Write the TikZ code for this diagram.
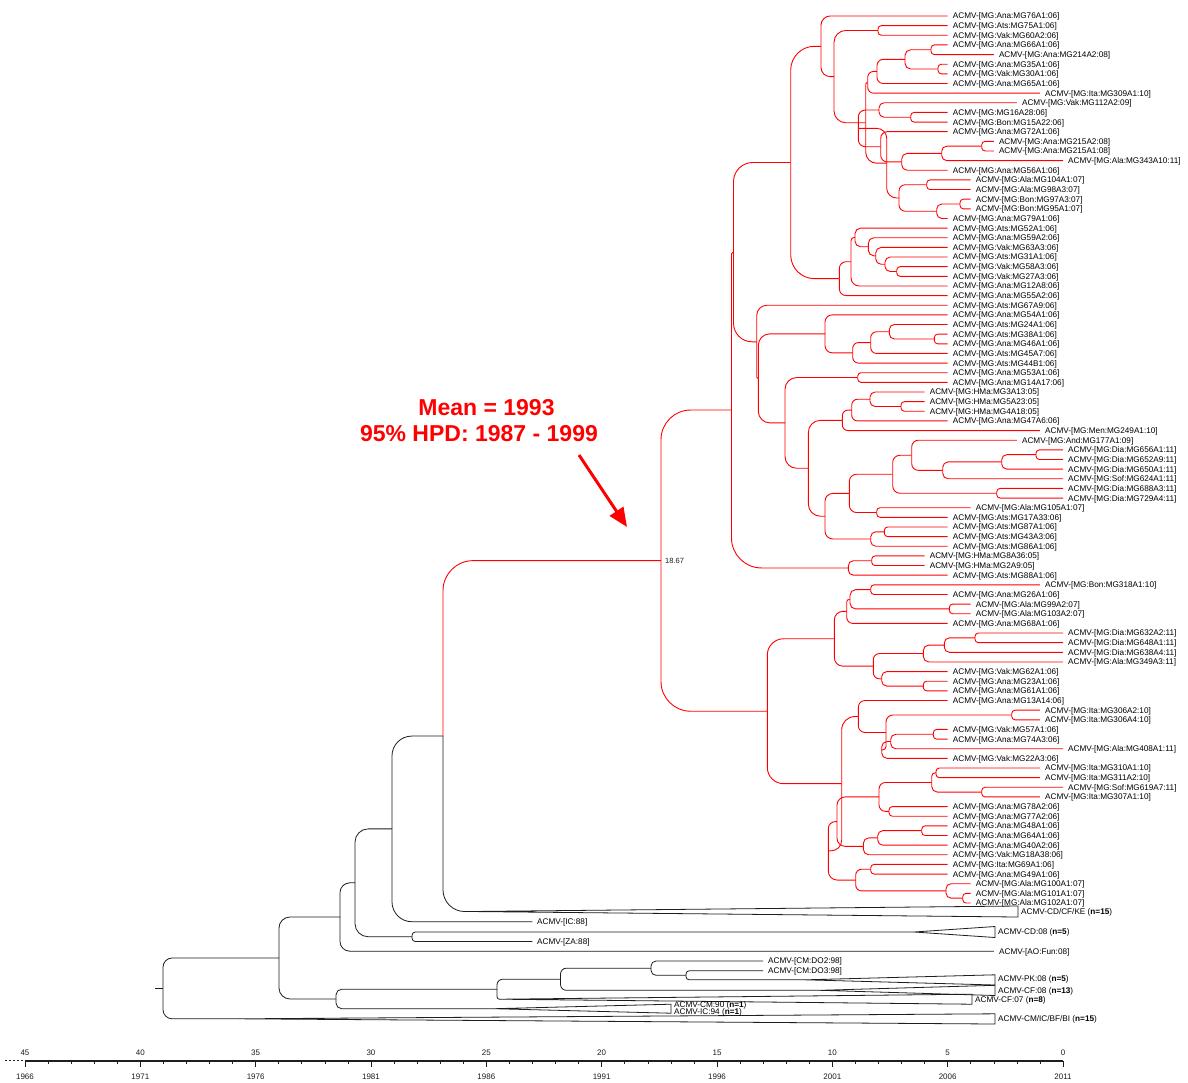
\documentclass[tikz,border=0pt]{standalone}
\usepackage{fontspec}
\setmainfont{Liberation Sans}
\usetikzlibrary{calc,arrows.meta}
\definecolor{tr}{RGB}{255,0,0}
\definecolor{tb}{RGB}{30,30,30}
\newdimen\bpx \newdimen\bpy \newdimen\bcx \newdimen\bcy
\newcommand\br[3][]{%
  \pgfextractx{\bpx}{\pgfpointanchor{#2}{center}}%
  \pgfextracty{\bpy}{\pgfpointanchor{#2}{center}}%
  \pgfextractx{\bcx}{\pgfpointanchor{#3}{center}}%
  \pgfextracty{\bcy}{\pgfpointanchor{#3}{center}}%
  \pgfmathsetmacro\bdy{abs((\the\bcy)-(\the\bpy))}%
  \pgfmathsetmacro\bdx{abs((\the\bcx)-(\the\bpx))}%
  \pgfmathsetmacro\rr{max(0.01,min(0.7*\bdy,4+0.17*\bdy,0.8*\bdx,30))}%
  \draw[branch,#1,rounded corners=\rr pt] (#2) |- (#3);}
\newcommand\ndc[4]{\path let \p1=(#3),\p2=(#4) in coordinate (#1) at (#2pt,{0.5*(\y1+\y2)});}
\newcommand\nd[5][]{\ndc{#2}{#3}{#4}{#5}\br[#1]{#2}{#4}\br[#1]{#2}{#5}}
\newcommand\lf[4]{\coordinate (#1) at ({1063-(11-#3)*23.067},{16+(#2-1)*9.641});
  \node[lab] (#1t) at ([xshift=5pt]#1) {ACMV-[MG:#4]};}
\begin{document}
\begin{tikzpicture}[x=1pt,y=-1pt,
  branch/.style={draw=tr,line width=0.9pt},
  blk/.style={draw=tb,line width=0.8pt},
  lab/.style={font=\fontsize{8.2}{9}\selectfont,anchor=west,inner sep=0pt,text height=5.9pt,text depth=0pt,text=black},
  axl/.style={font=\fontsize{8}{9}\selectfont,inner sep=0pt,text height=5.7pt,text depth=0pt,text=tb},
  ann/.style={font=\fontsize{23}{26}\selectfont\bfseries,text=tr,inner sep=0pt,text height=16.5pt,text depth=0pt}]
\fill[white] (0,0) rectangle (1188,1082);
\useasboundingbox (0,0) rectangle (1188,1082);
% leaves
\lf{l1}{1}{6}{Ana:MG76A1:06}
\lf{l2}{2}{6}{Ats:MG75A1:06}
\lf{l3}{3}{6}{Vak:MG60A2:06}
\lf{l4}{4}{6}{Ana:MG66A1:06}
\lf{l5}{5}{8}{Ana:MG214A2:08}
\lf{l6}{6}{6}{Ana:MG35A1:06}
\lf{l7}{7}{6}{Vak:MG30A1:06}
\lf{l8}{8}{6}{Ana:MG65A1:06}
\lf{l9}{9}{10}{Ita:MG309A1:10}
\lf{l10}{10}{9}{Vak:MG112A2:09}
\lf{l11}{11}{6}{MG16A28:06}
\lf{l12}{12}{6}{Bon:MG15A22:06}
\lf{l13}{13}{6}{Ana:MG72A1:06}
\lf{l14}{14}{8}{Ana:MG215A2:08}
\lf{l15}{15}{8}{Ana:MG215A1:08}
\lf{l16}{16}{11}{Ala:MG343A10:11}
\lf{l17}{17}{6}{Ana:MG56A1:06}
\lf{l18}{18}{7}{Ala:MG104A1:07}
\lf{l19}{19}{7}{Ala:MG98A3:07}
\lf{l20}{20}{7}{Bon:MG97A3:07}
\lf{l21}{21}{7}{Bon:MG95A1:07}
\lf{l22}{22}{6}{Ana:MG79A1:06}
\lf{l23}{23}{6}{Ats:MG52A1:06}
\lf{l24}{24}{6}{Ana:MG59A2:06}
\lf{l25}{25}{6}{Vak:MG63A3:06}
\lf{l26}{26}{6}{Ats:MG31A1:06}
\lf{l27}{27}{6}{Vak:MG58A3:06}
\lf{l28}{28}{6}{Vak:MG27A3:06}
\lf{l29}{29}{6}{Ana:MG12A8:06}
\lf{l30}{30}{6}{Ana:MG55A2:06}
\lf{l31}{31}{6}{Ats:MG67A9:06}
\lf{l32}{32}{6}{Ana:MG54A1:06}
\lf{l33}{33}{6}{Ats:MG24A1:06}
\lf{l34}{34}{6}{Ats:MG38A1:06}
\lf{l35}{35}{6}{Ana:MG46A1:06}
\lf{l36}{36}{6}{Ats:MG45A7:06}
\lf{l37}{37}{6}{Ats:MG44B1:06}
\lf{l38}{38}{6}{Ana:MG53A1:06}
\lf{l39}{39}{6}{Ana:MG14A17:06}
\lf{l40}{40}{5}{HMa:MG3A13:05}
\lf{l41}{41}{5}{HMa:MG5A23:05}
\lf{l42}{42}{5}{HMa:MG4A18:05}
\lf{l43}{43}{6}{Ana:MG47A6:06}
\lf{l44}{44}{10}{Men:MG249A1:10}
\lf{l45}{45}{9}{And:MG177A1:09}
\lf{l46}{46}{11}{Dia:MG656A1:11}
\lf{l47}{47}{11}{Dia:MG652A9:11}
\lf{l48}{48}{11}{Dia:MG650A1:11}
\lf{l49}{49}{11}{Sof:MG624A1:11}
\lf{l50}{50}{11}{Dia:MG688A3:11}
\lf{l51}{51}{11}{Dia:MG729A4:11}
\lf{l52}{52}{7}{Ala:MG105A1:07}
\lf{l53}{53}{6}{Ats:MG17A33:06}
\lf{l54}{54}{6}{Ats:MG87A1:06}
\lf{l55}{55}{6}{Ats:MG43A3:06}
\lf{l56}{56}{6}{Ats:MG86A1:06}
\lf{l57}{57}{5}{HMa:MG8A36:05}
\lf{l58}{58}{5}{HMa:MG2A9:05}
\lf{l59}{59}{6}{Ats:MG88A1:06}
\lf{l60}{60}{10}{Bon:MG318A1:10}
\lf{l61}{61}{6}{Ana:MG26A1:06}
\lf{l62}{62}{7}{Ala:MG99A2:07}
\lf{l63}{63}{7}{Ala:MG103A2:07}
\lf{l64}{64}{6}{Ana:MG68A1:06}
\lf{l65}{65}{11}{Dia:MG632A2:11}
\lf{l66}{66}{11}{Dia:MG648A1:11}
\lf{l67}{67}{11}{Dia:MG638A4:11}
\lf{l68}{68}{11}{Ala:MG349A3:11}
\lf{l69}{69}{6}{Vak:MG62A1:06}
\lf{l70}{70}{6}{Ana:MG23A1:06}
\lf{l71}{71}{6}{Ana:MG61A1:06}
\lf{l72}{72}{6}{Ana:MG13A14:06}
\lf{l73}{73}{10}{Ita:MG306A2:10}
\lf{l74}{74}{10}{Ita:MG306A4:10}
\lf{l75}{75}{6}{Vak:MG57A1:06}
\lf{l76}{76}{6}{Ana:MG74A3:06}
\lf{l77}{77}{11}{Ala:MG408A1:11}
\lf{l78}{78}{6}{Vak:MG22A3:06}
\lf{l79}{79}{10}{Ita:MG310A1:10}
\lf{l80}{80}{10}{Ita:MG311A2:10}
\lf{l81}{81}{11}{Sof:MG619A7:11}
\lf{l82}{82}{10}{Ita:MG307A1:10}
\lf{l83}{83}{6}{Ana:MG78A2:06}
\lf{l84}{84}{6}{Ana:MG77A2:06}
\lf{l85}{85}{6}{Ana:MG48A1:06}
\lf{l86}{86}{6}{Ana:MG64A1:06}
\lf{l87}{87}{6}{Ana:MG40A2:06}
\lf{l88}{88}{6}{Vak:MG18A38:06}
\lf{l89}{89}{6}{Ita:MG69A1:06}
\lf{l90}{90}{6}{Ana:MG49A1:06}
\lf{l91}{91}{7}{Ala:MG100A1:07}
\lf{l92}{92}{7}{Ala:MG101A1:07}
\lf{l93}{93}{7}{Ala:MG102A1:07}
% top red subclade
\nd{nD}{878}{l2}{l3}
\nd{n931}{931}{l4}{l5}
\nd{n938}{938}{l6}{l7}
\nd{n905}{905}{n931}{n938}
\nd{nF}{877}{n905}{l8}
\nd{nG}{867.7}{nF}{l9}
\nd{n910}{910.7}{l11}{l12}
\nd{nY}{879}{l10}{n910}
\nd{n981}{981.7}{l14}{l15}
\nd{nK}{941.7}{n981}{l16}
\nd{nL}{901.7}{nK}{l17}
\nd{nU}{880.7}{l13}{nL}
\nd{nI}{858.3}{nY}{nU}
\nd{nP}{926.7}{l18}{l19}
\nd{nQn}{960}{l20}{l21}
\nd{nR}{936.7}{nQn}{l22}
\nd{nS}{899}{nP}{nR}
\nd{nT}{886.7}{nI}{nS}
\nd{nH}{865.7}{nG}{nT}
\nd{nC}{834}{nD}{nH}
\nd{nB}{821}{l1}{nC}
\nd{n896}{896.7}{l27}{l28}
\nd{n885}{885}{l26}{n896}
\nd{n875}{875.7}{l25}{n885}
\nd{n868}{868.3}{l24}{n875}
\nd{n855}{855}{l23}{n868}
\nd{n851}{851}{n855}{l29}
\nd{n839}{839.3}{n851}{l30}
\nd{nA}{790.7}{nB}{n839}
% middle red subclade
\nd{n934}{934.3}{l34}{l35}
\nd{n889}{889.3}{l33}{n934}
\nd{n870a}{870.7}{n889}{l36}
\nd{n852}{852.7}{n870a}{l37}
\nd{n825}{825}{l32}{n852}
\nd{n857}{857.7}{l38}{l39}
\nd{n901}{901}{l41}{l42}
\nd{n870b}{870}{l40}{n901}
\nd{n851b}{851.7}{n870b}{l43}
\nd{n842}{842.3}{n851b}{l44}
\nd{n1036}{1036}{l46}{l47}
\nd{n1001}{1001.7}{n1036}{l48}
\nd{n942}{942.7}{n1001}{l49}
\nd{n911}{911.7}{l45}{n942}
\nd{n996}{996.7}{l50}{l51}
\nd{n892}{892.7}{n911}{n996}
\nd{n876}{876.7}{l52}{l53}
\nd{n849}{849.3}{n892}{n876}
\nd{n884}{884.3}{l54}{l55}
\nd{n870c}{870.7}{n884}{l56}
\nd{n825b}{825}{n849}{n870c}
\nd{n808}{808.3}{n842}{n825b}
\nd{n785}{785}{n857}{n808}
\nd{nZ2}{758.3}{n825}{n785}
\nd{nZ}{756.7}{l31}{nZ2}
\nd{nQa}{733.5}{nA}{nZ}
\nd{n871}{871.7}{l57}{l58}
\nd{n848}{848.3}{n871}{l59}
\nd{nQ}{731.5}{nQa}{n848}
% lower red subclade
\nd{n870x}{870.7}{l60}{l61}
\nd{n949}{949.3}{l62}{l63}
\nd{n850}{850}{n870x}{n949}
\nd{n846}{846.7}{n850}{l64}
\nd{n975}{975}{l65}{l66}
\nd{n944}{944.3}{n975}{l67}
\nd{n923}{923.3}{n944}{l68}
\nd{n923b}{923.3}{l70}{l71}
\nd{n881b}{881.7}{l69}{n923b}
\nd{n873}{873.3}{n923}{n881b}
\nd{n834}{834.3}{n846}{n873}
\nd{n1011}{1011.7}{l73}{l74}
\nd{n933}{933.3}{l75}{l76}
\nd{n890}{890.7}{n933}{l77}
\nd{n881}{881.7}{n890}{l78}
\nd{n886}{886}{n1011}{n881}
\nd{n858}{858.3}{l72}{n886}
\nd{n936}{936}{l79}{l80}
\nd{n981b}{981.7}{l81}{l82}
\nd{n931b}{931.7}{n936}{n981b}
\nd{n890b}{889}{l83}{l84}
\nd{n879}{879}{n931b}{n890b}
\nd{n921}{921.7}{l85}{l86}
\nd{n877}{877.7}{n921}{l87}
\nd{n863}{863.3}{n877}{l88}
\nd{nR4}{837}{n879}{n863}
\nd{n870y}{870.7}{l89}{l90}
\nd{n962}{962.7}{l92}{l93}
\nd{n946}{946}{l91}{n962}
\nd{n855b}{855.7}{n870y}{n946}
\nd{nR3}{828.3}{nR4}{n855b}
\nd{nR2}{841.7}{n858}{nR3}
\nd{n767}{767.3}{n834}{nR2}
\nd{n661}{661}{nQ}{n767}
\node[font=\fontsize{7.5}{8}\selectfont,text=tb,anchor=west,inner sep=0pt] (hpdlab) at ([xshift=4pt]n661) {18.67};
% black part: collapsed clades and leaves
\coordinate (kA) at (470,911.5); \coordinate (kA1) at (1018,906); \coordinate (kA2) at (1018,917);
\coordinate (ic88) at (532.4,921.7);
\coordinate (kB) at (914,932); \coordinate (kB1) at (995,926.5); \coordinate (kB2) at (995,937.5);
\coordinate (za88) at (532.4,941.5);
\coordinate (aofun) at (993.8,951.2);
\coordinate (do2) at (763.1,961);
\coordinate (do3) at (763.1,970.8);
\coordinate (kC) at (805,979.8); \coordinate (kC1) at (995,974.8); \coordinate (kC2) at (995,985);
\coordinate (kD) at (820,990.3); \coordinate (kD1) at (995,985.3); \coordinate (kD2) at (995,995.5);
\coordinate (kE) at (500,999.2); \coordinate (kE1) at (972,994.2); \coordinate (kE2) at (972,1004.2);
\coordinate (kF) at (494,1008.7); \coordinate (kF1) at (671,1004.2); \coordinate (kF2) at (671,1013.2);
\coordinate (kG) at (240,1018.8); \coordinate (kG1) at (995,1013.8); \coordinate (kG2) at (995,1024);
\foreach \t in {kA,kB,kC,kD,kE,kF,kG} {\draw[blk,line join=round] (\t) -- (\t1) -- (\t2) -- cycle;}
\ndc{p443}{443}{n661}{kA}
\br{p443}{n661}
\br[blk]{p443}{kA}
\nd[blk]{n392}{392}{p443}{ic88}
\nd[blk]{n412}{412}{kB}{za88}
\nd[blk]{n355}{355}{n392}{n412}
\nd[blk]{n340}{340}{n355}{aofun}
\nd[blk]{n686}{686}{do3}{kC}
\nd[blk]{n651}{651}{do2}{n686}
\nd[blk]{n560}{560.5}{n651}{kD}
\nd[blk]{n500}{497}{n560}{kE}
\nd[blk]{n336}{336}{n500}{kF}
\nd[blk]{n279}{279}{n340}{n336}
\nd[blk]{nroot}{163}{n279}{kG}
\coordinate (rstub) at ([xshift=-8pt]nroot);
\draw[blk] (rstub) -- (nroot);
% black labels
\node[lab] (tA) at (1021,912) {ACMV-CD/CF/KE (\textbf{n=15})};
\node[lab] (tic) at (537,922) {ACMV-[IC:88]};
\node[lab] (tB) at (998,932) {ACMV-CD:08 (\textbf{n=5})};
\node[lab] (tza) at (537,942) {ACMV-[ZA:88]};
\node[lab] (tao) at (999,951.5) {ACMV-[AO:Fun:08]};
\node[lab] (tdo2) at (768,961) {ACMV-[CM:DO2:98]};
\node[lab] (tdo3) at (768,971) {ACMV-[CM:DO3:98]};
\node[lab] (tC) at (998,978.5) {ACMV-PK:08 (\textbf{n=5})};
\node[lab] (tD) at (998,990.5) {ACMV-CF:08 (\textbf{n=13})};
\node[lab] (tE) at (975,999.5) {ACMV-CF:07 (\textbf{n=8})};
\node[lab] (tF1) at (674,1005) {ACMV-CM:90 (\textbf{n=1})};
\node[lab] (tF2) at (674,1011.5) {ACMV-IC:94 (\textbf{n=1})};
\node[lab] (tG) at (998,1018.5) {ACMV-CM/IC/BF/BI (\textbf{n=15})};
% annotation
\node[ann] (mean) at (486.5,407) {Mean = 1993};
\node[ann] (hpd) at (479,433) {95\% HPD: 1987 - 1999};
\coordinate (arS) at (579,455);
\coordinate (arE) at (627,527);
\draw[tr,line width=3pt,-{Triangle[length=19pt,width=16pt]}] (arS) -- (arE);
% time axis
\coordinate (axL) at (25,1061); \coordinate (axR) at (1063,1061);
\draw[tb,line width=1.1pt] (axL) -- (axR);
\coordinate (dtL) at (5,1060); \coordinate (dtR) at (23,1060);
\draw[tb,line width=0.8pt,dash pattern=on 1.5pt off 2.5pt] (dtL) -- (dtR);
\foreach \k in {0,...,45} {\draw[tb,line width=0.6pt] ({1063-\k*23.067},1061) -- ++(0,3);}
\foreach \k in {0,5,...,45} {
  \draw[tb,line width=0.8pt] ({1063-\k*23.067},1061) -- ++(0,6);
  \node[axl] (ax\k) at ({1063-\k*23.067},1052.5) {\k};
  \pgfmathtruncatemacro\yr{2011-\k}
  \node[axl] (yr\k) at ({1063-\k*23.067},1076.5) {\yr};}
\end{tikzpicture}
\end{document}
